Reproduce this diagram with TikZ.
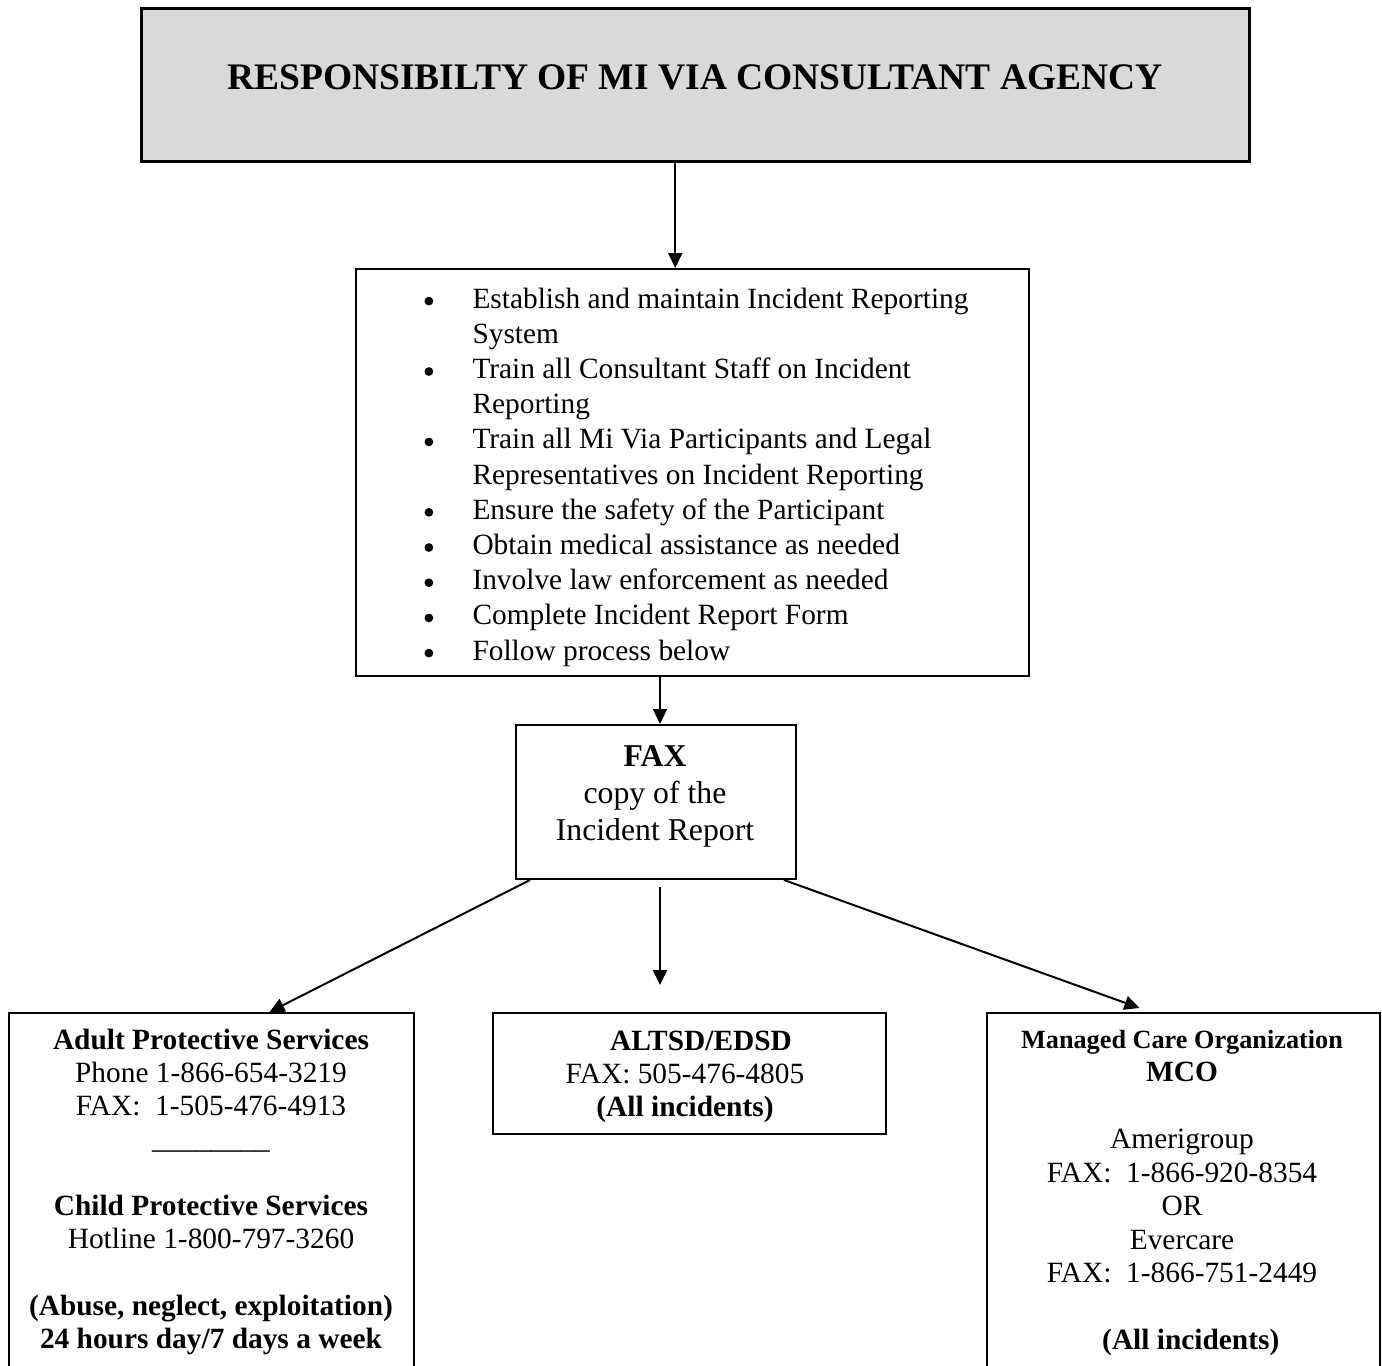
\documentclass[tikz,border=0pt]{standalone}
\usepackage{fontspec}
\setmainfont{Liberation Serif}
\usetikzlibrary{arrows.meta,calc}
\definecolor{hdrgray}{HTML}{D9D9D9}
\newcommand{\bul}{\makebox[19.6pt][l]{\hspace*{0.4pt}\raisebox{1pt}{\tikz\fill (0,0) circle (1.75pt);}}}
\newcommand{\bind}{\hspace*{19.6pt}}
\begin{document}
\begin{tikzpicture}[x=0.4pt,y=-0.4pt,
  box/.style={draw,line width=0.8pt,inner sep=0pt,anchor=north west},
  txt/.style={anchor=base,inner sep=0pt},
  conn/.style={line width=0.8pt,-{Triangle[length=6pt,width=5.6pt]}}]
\useasboundingbox (0,0) rectangle (1382,1366);
\clip (0,0) rectangle (1382,1366);
\fill[white] (0,0) rectangle (1382,1366);

% boxes
\node[box,line width=1pt,fill=hdrgray,minimum width=443.2pt,minimum height=61.2pt] (top) at (140,7) {};
\node[box,minimum width=269.2pt,minimum height=162.8pt] (bullets) at (355,268) {};
\node[box,minimum width=112pt,minimum height=61.6pt] (fax) at (515,724) {};
\node[box,minimum width=162pt,minimum height=155.2pt] (aps) at (8,1012) {};
\node[box,minimum width=157.2pt,minimum height=48.4pt] (mid) at (492,1012) {};
\node[box,minimum width=157.2pt,minimum height=155.2pt] (mco) at (986,1012) {};

% texts
\node[txt,font=\fontsize{15}{18}\selectfont\bfseries] (title) at (695,90) {RESPONSIBILTY OF MI VIA CONSULTANT AGENCY};

\node[anchor=base west,inner sep=0pt] (blist) at (423,308) {\parbox[t]{260pt}{\fontsize{11.75}{14.08}\selectfont\raggedright
\bul Establish and maintain Incident Reporting\\
\bind System\\
\bul Train all Consultant Staff on Incident\\
\bind Reporting\\
\bul Train all Mi Via Participants and Legal\\
\bind Representatives on Incident Reporting\\
\bul Ensure the safety of the Participant\\
\bul Obtain medical assistance as needed\\
\bul Involve law enforcement as needed\\
\bul Complete Incident Report Form\\
\bul Follow process below}};

\node[txt] (faxt) at (655,766) {\parbox[t]{110pt}{\fontsize{12.7}{14.8}\selectfont\centering
\textbf{FAX}\\copy of the\\Incident Report}};

\node[txt] (apst) at (211,1049) {\parbox[t]{160pt}{\fontsize{11.75}{13.3}\selectfont\centering
\textbf{Adult Protective Services}\\
Phone 1-866-654-3219\\
FAX:\ \ 1-505-476-4913\\
\_\_\_\_\_\_\_\_\\[13.3pt]
\textbf{Child Protective Services}\\
Hotline 1-800-797-3260\\[13.3pt]
\textbf{(Abuse, neglect, exploitation)}\\
\textbf{24 hours day/7 days a week}}};

\node[txt] (midt) at (685,1050) {\parbox[t]{155pt}{\fontsize{11.75}{13.2}\selectfont\centering
\hspace*{12.8pt}\textbf{ALTSD/EDSD}\\
FAX: 505-476-4805\\
\textbf{(All incidents)}}};

\node[txt] (mcot) at (1182,1048) {\parbox[t]{155pt}{\fontsize{11.75}{13.4}\selectfont\centering
{\fontsize{10.5}{13.4}\selectfont\textbf{Managed Care Organization}}\\
\textbf{MCO}\\[13.4pt]
Amerigroup\\
FAX:\ \ 1-866-920-8354\\
OR\\
Evercare\\
FAX:\ \ 1-866-751-2449\\[13.4pt]
\hspace*{7pt}\textbf{(All incidents)}}};

% connectors
\coordinate (t1) at ($(top.south)+(-20,0)$);
\draw[conn] (t1) -- (t1 |- bullets.north);
\coordinate (b1) at ($(fax.north)+(4,0)$);
\draw[conn] (b1 |- bullets.south) -- (b1);
\draw[conn] ($(fax.south west)+(15,0)$) -- ($(aps.north)+(58,0)$);
\coordinate (m1) at ($(fax.south)+(4,7)$);
\coordinate (m2) at ($(fax.south)+(4,105)$);
\draw[conn] (m1) -- (m2);
\draw[conn] ($(fax.south east)+(-13,0)$) -- ($(mco.north)+(-44,-4)$);
\end{tikzpicture}
\end{document}
